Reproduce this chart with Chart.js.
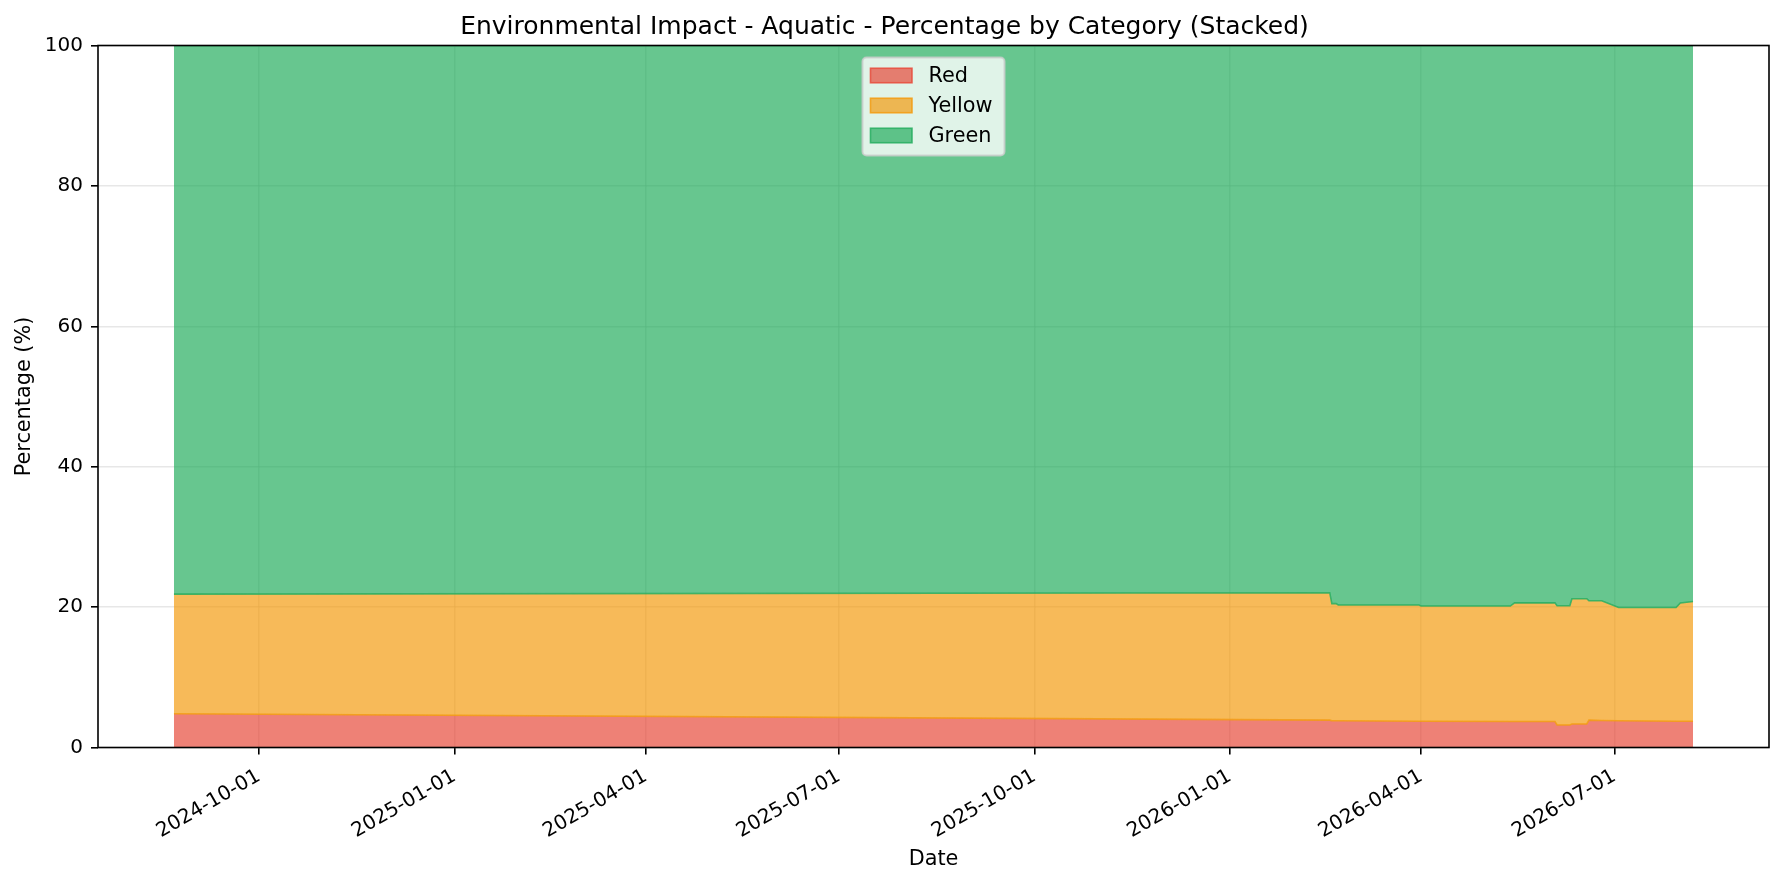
<!DOCTYPE html>
<html><head><meta charset="utf-8">
<script src="https://cdn.jsdelivr.net/npm/chart.js@4.4.0/dist/chart.umd.min.js"></script>
<style>html,body{margin:0;padding:0;background:#fff;overflow:hidden}</style>
</head><body>
<canvas id="c" width="1783" height="884" style="width:1783px;height:884px;display:block"></canvas>
<script>
const titleText = 'Environmental Impact - Aquatic - Percentage by Category (Stacked)';
const categories = ['Red', 'Yellow', 'Green'];
const dates = ['2024-08-22','2026-02-17','2026-02-18','2026-02-20','2026-02-21','2026-03-31','2026-04-01',
  '2026-05-13','2026-05-15','2026-06-03','2026-06-04','2026-06-10','2026-06-11','2026-06-18','2026-06-19',
  '2026-06-25','2026-07-03','2026-07-30','2026-08-01','2026-08-07'];
const redPct =    [4.8, 3.9, 3.8, 3.8, 3.8, 3.75, 3.75, 3.7, 3.7, 3.7, 3.2, 3.2, 3.35, 3.35, 3.9, 3.85, 3.8, 3.75, 3.75, 3.75];
const yellowPct = [17.05, 18.15, 16.7, 16.7, 16.5, 16.55, 16.4, 16.45, 16.9, 16.9, 17.0, 17.0, 17.85, 17.85, 17.0, 17.05, 16.15, 16.2, 16.85, 17.05];
const greenPct =  [78.15, 77.95, 79.5, 79.5, 79.7, 79.7, 79.85, 79.85, 79.4, 79.4, 79.8, 79.8, 78.8, 78.8, 79.1, 79.1, 80.05, 80.05, 79.4, 79.2];
const xTickLabels = ['2024-10-01','2025-01-01','2025-04-01','2025-07-01','2025-10-01','2026-01-01','2026-04-01','2026-07-01'];
const yTickStep = 20;
const xLabel = 'Date';
const yLabel = 'Percentage (%)';

const rgb = ['231,76,60', '243,156,18', '39,174,96'];
const FONT = 'DejaVu Sans';
Chart.defaults.font.family = FONT;
Chart.defaults.color = '#000';

const toDay = s => Date.parse(s + 'T00:00:00Z') / 86400000;
const xs = dates.map(toDay);
const span = xs[xs.length - 1] - xs[0];
const series = [redPct, yellowPct, greenPct];

const datasets = categories.map((name, k) => ({
  label: name,
  data: xs.map((x, i) => ({x: x, y: series[k][i]})),
  backgroundColor: 'rgba(' + rgb[k] + ',0.7)',
  borderColor: 'rgba(' + rgb[Math.min(k + 1, 2)] + ',0.85)',
  borderWidth: 1.6,
  fill: k === 0 ? 'origin' : '-1',
  pointRadius: 0,
  tension: 0
}));

const gridColor = 'rgba(176,176,176,0.3)';

const framePlugin = {
  id: 'frame',
  afterDraw(chart) {
    const {ctx, chartArea: a} = chart;
    ctx.save();
    ctx.strokeStyle = '#000';
    ctx.lineWidth = 1.6;
    ctx.strokeRect(a.left, a.top, a.right - a.left, a.bottom - a.top);
    // legend (upper center)
    const fs = 20.8;
    ctx.font = fs + 'px "' + FONT + '"';
    let tw = 0;
    categories.forEach(c => tw = Math.max(tw, ctx.measureText(c).width));
    const pad = 8, handleW = 41.5, handleH = 14.5, gap = 16.5, rowH = 30;
    const w = pad + handleW + gap + tw + 12;
    const h = rowH * categories.length + 8;
    const cx = (a.left + a.right) / 2;
    const x0 = cx - w / 2, y0 = a.top + 12;
    ctx.beginPath();
    if (ctx.roundRect) ctx.roundRect(x0, y0, w, h, 4); else ctx.rect(x0, y0, w, h);
    ctx.fillStyle = 'rgba(255,255,255,0.8)';
    ctx.fill();
    ctx.strokeStyle = 'rgba(204,204,204,0.8)';
    ctx.lineWidth = 2;
    ctx.stroke();
    categories.forEach((c, k) => {
      const cy = y0 + 18 + k * rowH;
      ctx.fillStyle = 'rgba(' + rgb[k] + ',0.7)';
      ctx.fillRect(x0 + pad, cy - handleH / 2, handleW, handleH);
      ctx.strokeStyle = 'rgba(' + rgb[k] + ',0.85)';
      ctx.lineWidth = 1.6;
      ctx.strokeRect(x0 + pad, cy - handleH / 2, handleW, handleH);
      ctx.fillStyle = '#000';
      ctx.textBaseline = 'middle';
      ctx.textAlign = 'left';
      ctx.fillText(c, x0 + pad + handleW + gap, cy + 1);
    });
    ctx.restore();
  }
};

new Chart(document.getElementById('c'), {
  type: 'line',
  data: {datasets},
  options: {
    responsive: false,
    animation: false,
    devicePixelRatio: 1,
    layout: {padding: {top: 0, right: 14, bottom: 0, left: 0}},
    plugins: {
      legend: {display: false},
      tooltip: {enabled: false},
      title: {display: true, text: titleText, color: '#000',
        font: {size: 25, weight: 'normal', family: FONT}, padding: {top: 12.5, bottom: 3}}
    },
    scales: {
      x: {
        type: 'linear',
        z: 1,
        min: xs[0] - 0.05 * span,
        max: xs[xs.length - 1] + 0.05 * span,
        afterBuildTicks: s => { s.ticks = xTickLabels.map(l => ({value: toDay(l)})); },
        afterFit: s => { s.height = 884 - 747.5; },
        grid: {color: gridColor, lineWidth: 1.6, tickColor: '#000', tickLength: 7, tickWidth: 1.6},
        border: {display: false},
        ticks: {minRotation: 30, maxRotation: 30, padding: 10, autoSkip: false,
          font: {size: 20, family: FONT}, color: '#000',
          callback: (v, i) => xTickLabels[i]},
        title: {display: true, text: xLabel, color: '#000', font: {size: 20.8, family: FONT},
          padding: {top: 0, bottom: 12}}
      },
      y: {
        type: 'linear',
        stacked: true,
        z: 1,
        min: 0, max: 100,
        afterFit: s => { s.width = 98; },
        grid: {color: gridColor, lineWidth: 1.6, tickColor: '#000', tickLength: 7, tickWidth: 1.6},
        border: {display: false},
        ticks: {stepSize: yTickStep, padding: 8, font: {size: 20, family: FONT}, color: '#000'},
        title: {display: true, text: yLabel, color: '#000', font: {size: 20.8, family: FONT},
          padding: {top: 12.5, bottom: 0}}
      }
    }
  },
  plugins: [framePlugin]
});
</script>
</body></html>
